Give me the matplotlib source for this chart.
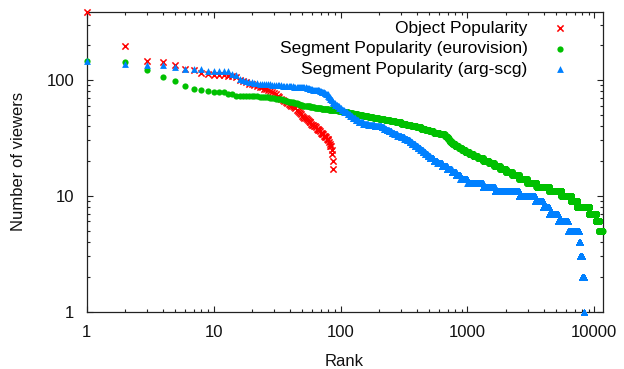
import numpy as np
import matplotlib
matplotlib.use("Agg")
import matplotlib.pyplot as plt
from matplotlib.ticker import FixedLocator, FixedFormatter, LogLocator, NullFormatter

# ---------------- data ----------------
# Object popularity: value per rank (rank 1..88)
object_values = [385, 195, 146, 143, 134, 125, 121, 115, 113, 111,
                 110, 110, 109, 108, 105, 100, 97, 95, 93, 92,
                 91, 89, 87, 86, 84, 83, 81, 80, 78, 77,
                 75, 73, 71, 69, 67, 66, 64, 63, 62, 61,
                 60, 59, 58, 57, 55, 54, 53, 52, 51, 49,
                 48, 47, 47, 46, 45, 44, 43, 43, 42, 41,
                 41, 40, 40, 39, 38, 38, 37, 37, 36, 35,
                 35, 34, 34, 33, 33, 32, 32, 31, 31, 30,
                 29, 28, 27, 27, 25, 23, 20, 17]

# Segment popularity (eurovision): viewer count and the last rank holding it
euro_values = [146, 143, 121, 105, 98, 89, 84, 81, 80, 79, 78, 76, 75, 73,
               72, 71, 70, 69, 68, 67, 66, 65, 64, 63, 62, 61, 60, 59, 58, 57, 56,
               55, 54, 53, 52, 51, 50, 49, 48, 47, 46, 45, 44, 43, 42, 41, 40,
               39, 38, 37, 36, 35, 34, 33, 32, 31, 30, 29, 28, 27, 26, 25, 24,
               23, 22, 21, 20, 19, 18, 17, 16, 15, 14, 13, 12, 11, 10, 9, 8,
               7, 6, 5]
euro_last_rank = [1, 2, 3, 4, 5, 6, 7, 8, 9, 10, 12, 13, 14, 15,
                  22, 27, 30, 32, 34, 36, 38, 40, 42, 45, 47, 50, 53, 57, 62, 70, 80,
                  95, 105, 115, 125, 137, 150, 165, 180, 200, 222, 245, 270, 300, 330, 360, 395,
                  430, 465, 500, 540, 600, 660, 680, 700, 715, 730, 760, 800, 850, 900, 960, 1030,
                  1110, 1200, 1330, 1470, 1620, 1800, 2000, 2250, 2550, 2950, 3500, 4400, 5500, 6550, 7300, 9100,
                  10300, 10950, 11600]

# Segment popularity (arg-scg): viewer count and the last rank holding it
arg_values = [146, 137, 135, 130, 125, 124, 123, 120, 119, 113, 110, 102, 99, 97, 96, 95,
              94, 93, 92, 91, 90, 89, 88, 87, 86, 85, 84, 83, 82, 81, 80, 79, 78, 77, 76, 75,
              73, 71, 69, 67, 65, 63, 61, 59, 57, 55, 53, 51, 49, 47, 45, 43, 42, 41, 40,
              39, 38, 37, 36, 35, 34, 33, 32, 31, 30, 29, 28, 27, 26, 25, 24, 23, 22, 21,
              20, 19, 18, 17, 16, 15, 14, 13, 12, 11, 10, 9, 8, 7, 6, 5, 4, 3, 2, 1]
arg_last_rank = [1, 2, 4, 5, 6, 7, 8, 10, 13, 14, 15, 16, 17, 18, 19, 20,
                 22, 25, 28, 31, 34, 37, 42, 50, 53, 56, 58, 60, 66, 68, 70, 72, 74, 76, 77, 79,
                 80, 82, 84, 86, 87, 90, 94, 97, 101, 106, 113, 118, 124, 131, 138, 150, 165, 185, 210,
                 220, 230, 240, 252, 265, 280, 300, 318, 335, 350, 365, 385, 405, 425, 445, 465, 485, 505, 540,
                 580, 630, 690, 750, 810, 880, 1000, 1320, 1640, 2550, 3430, 3950, 4380, 5200, 6250, 7550, 7700, 7980, 8280, 8300]

x_ticks = [1, 10, 100, 1000, 10000]
x_tick_labels = ["1", "10", "100", "1000", "10000"]
y_ticks = [1, 10, 100]
y_tick_labels = ["1", "10", "100"]

labels = ["Object Popularity", "Segment Popularity (eurovision)", "Segment Popularity (arg-scg)"]


def expand(values, last_rank):
    counts = np.diff(np.concatenate([[0], last_rank]))
    v = np.repeat(values, counts)
    r = np.arange(1, len(v) + 1)
    return r, v


# ---------------- plot ----------------
plt.rcParams['font.family'] = ['Liberation Sans', 'DejaVu Sans']
plt.rcParams['font.size'] = 12

fig = plt.figure(figsize=(6.24, 3.69), dpi=100)
ax = fig.add_axes([86.7 / 624, 1 - 311.7 / 369, (602.5 - 86.7) / 624, (311.7 - 12) / 369])

obj_r = np.arange(1, len(object_values) + 1)
euro_r, euro_v = expand(euro_values, euro_last_rank)
arg_r, arg_v = expand(arg_values, arg_last_rank)

ax.scatter(obj_r, object_values, marker='x', s=20, linewidths=1.1, color='#ff0000',
           label=labels[0], clip_on=False, zorder=3)
ax.scatter(euro_r, euro_v, marker='o', s=20, linewidths=0, color='#00c000',
           label=labels[1], clip_on=False, zorder=4)
ax.scatter(arg_r, arg_v, marker='^', s=24, linewidths=0, color='#0080ff',
           label=labels[2], clip_on=False, zorder=5)

ax.set_xscale('log')
ax.set_yscale('log')
ax.set_xlim(1, max(euro_last_rank))
ax.set_ylim(1, max(object_values))

ax.xaxis.set_major_locator(FixedLocator(x_ticks))
ax.xaxis.set_major_formatter(FixedFormatter(x_tick_labels))
ax.yaxis.set_major_locator(FixedLocator(y_ticks))
ax.yaxis.set_major_formatter(FixedFormatter(y_tick_labels))
ax.xaxis.set_minor_locator(LogLocator(base=10, subs=np.arange(2, 10), numticks=20))
ax.yaxis.set_minor_locator(LogLocator(base=10, subs=np.arange(2, 10), numticks=20))
ax.xaxis.set_minor_formatter(NullFormatter())
ax.yaxis.set_minor_formatter(NullFormatter())

ax.tick_params(which='both', direction='in', top=True, right=True, colors='#222222',
               labelcolor='#111111', width=0.8)
ax.tick_params(which='major', length=4.5)
ax.tick_params(which='minor', length=2.3)
ax.tick_params(axis='x', which='major', pad=9.5)
ax.tick_params(axis='y', which='major', pad=9)
for s in ax.spines.values():
    s.set_color('#222222')
    s.set_linewidth(0.9)

ax.set_xlabel('Rank', color='#111111')
ax.set_ylabel('Number of viewers', color='#111111')
ax.xaxis.set_label_coords(0.5, -0.142)
ax.yaxis.set_label_coords(-0.117, 0.5)

leg = ax.legend(loc='upper right', bbox_to_anchor=(0.9506, 0.972), frameon=False,
                markerfirst=False, scatterpoints=1, handlelength=2.0, handletextpad=0.85,
                borderpad=0, borderaxespad=0, labelspacing=0.32, markerscale=1.0,
                fontsize=12.5)

fig.savefig('out.png', dpi=100)
